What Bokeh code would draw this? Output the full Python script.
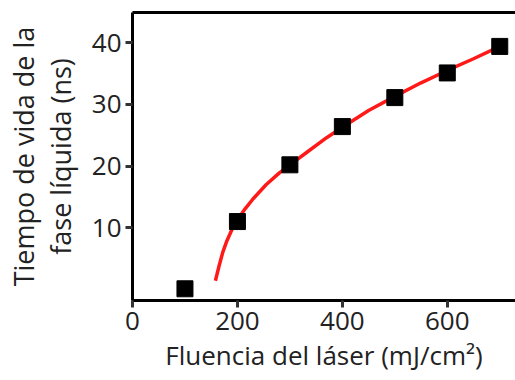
from bokeh.plotting import figure
from bokeh.models import LinearAxis, FixedTicker, Range1d
from bokeh.embed import file_html
from bokeh.resources import INLINE

# measured data (squares)
fluence = [100, 200, 300, 400, 500, 600, 700]
lifetime = [0.1, 11.0, 20.2, 26.4, 31.1, 35.1, 39.4]

# red fit curve
fit_x = [158, 165, 172, 180, 190, 200, 215, 230, 255, 280, 300, 335, 370, 400, 450, 500, 550, 600, 650, 690]
fit_y = [1.4, 3.8, 6.0, 7.9, 9.8, 11.3, 13.1, 14.7, 17.0, 18.9, 20.2, 22.4, 24.6, 26.3, 29.0, 31.3, 33.5, 35.5, 37.4, 39.0]

x_ticks = [0, 200, 400, 600]
y_ticks = [10, 20, 30, 40]

FONT = "Open Sans"
TXT = "#222222"

p = figure(width=515, height=380, output_backend="svg", toolbar_location=None,
           x_range=Range1d(0, 730), y_range=Range1d(-1.8, 44.9),
           min_border_left=132, min_border_right=0, min_border_top=12, min_border_bottom=80)
p.grid.visible = False
p.outline_line_color = None
p.background_fill_color = "white"
p.border_fill_color = "white"

for ax in (p.xaxis[0], p.yaxis[0]):
    ax.axis_line_width = 3
    ax.axis_line_color = "black"
    ax.major_tick_line_width = 3
    ax.major_tick_line_color = "#333333"
    ax.major_tick_out = 7
    ax.major_tick_in = 0
    ax.minor_tick_line_color = None
    ax.major_label_text_font = FONT
    ax.major_label_text_font_size = "26px"
    ax.major_label_text_color = TXT
    ax.axis_label_text_font = FONT
    ax.axis_label_text_font_style = "normal"
    ax.axis_label_text_color = TXT

p.xaxis.axis_label_text_font_size = "26px"
p.yaxis.axis_label_text_font_size = "27px"
p.yaxis.axis_label_text_line_height = 1.0
p.xaxis.ticker = FixedTicker(ticks=x_ticks)
p.yaxis.ticker = FixedTicker(ticks=y_ticks)
p.xaxis.axis_label = "Fluencia del láser (mJ/cm²)"
p.yaxis.axis_label = "Tiempo de vida de la\nfase líquida (ns)"
p.xaxis.major_label_standoff = 4
p.yaxis.major_label_standoff = 4
p.xaxis.axis_label_standoff = 4
p.yaxis.axis_label_standoff = 10

top = LinearAxis(ticker=FixedTicker(ticks=[]), axis_line_width=3, axis_line_color="black",
                 major_label_text_font_size="0px", major_tick_line_color=None,
                 minor_tick_line_color=None)
p.add_layout(top, "above")

p.line(fit_x, fit_y, line_color="#ff1a1a", line_width=3.5)
p.scatter(fluence, lifetime, marker="square", size=16, fill_color="black", line_color="black")

open("out.html", "w").write(file_html(p, INLINE))
